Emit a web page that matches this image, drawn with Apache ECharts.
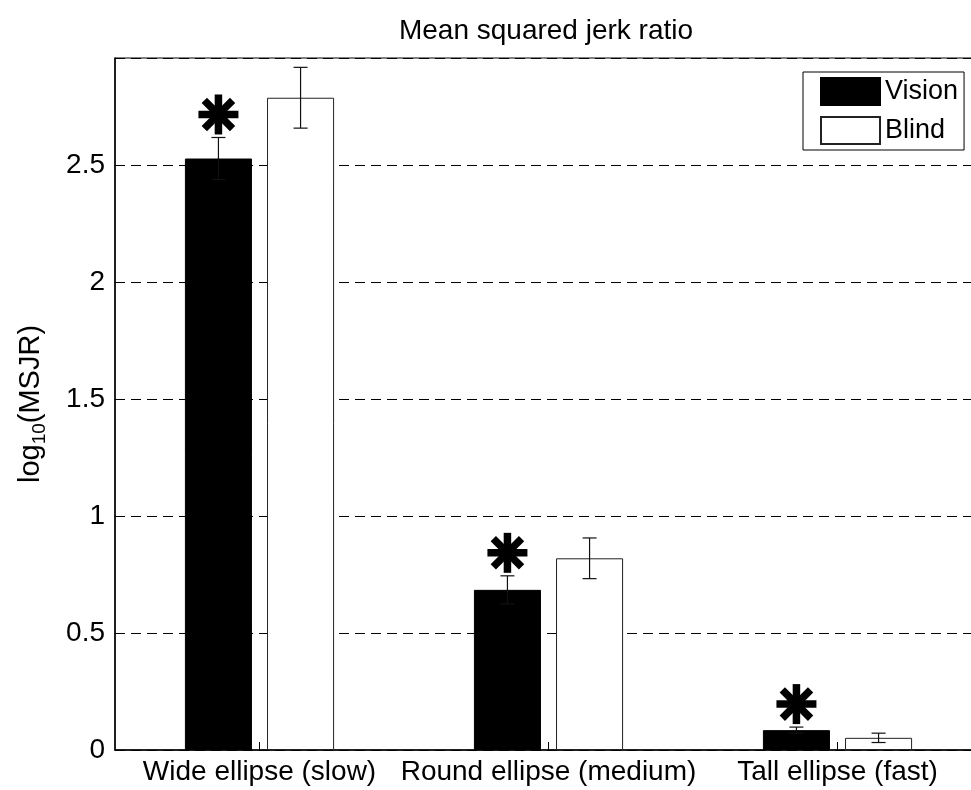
<!DOCTYPE html>
<html>
<head>
<meta charset="utf-8">
<script src="https://cdn.jsdelivr.net/npm/echarts@6/dist/echarts.min.js"></script>
<style>
  html, body { margin: 0; padding: 0; background: #fff; }
  #chart { width: 971px; height: 790px; }
</style>
</head>
<body>
<div id="chart"></div>
<script>
// Condition labels along the x axis
const categories = ['Wide ellipse (slow)', 'Round ellipse (medium)', 'Tall ellipse (fast)'];
// log10 of the mean squared jerk ratio, with standard error
const vision = [2.53, 0.685, 0.085];
const visionErr = [0.09, 0.06, 0.013];
const blind = [2.79, 0.82, 0.052];
const blindErr = [0.13, 0.087, 0.02];
// Significant difference between conditions (marked with an asterisk)
const significant = [true, true, true];
const yTicks = [0, 0.5, 1, 1.5, 2, 2.5];

const BAR_W = 0.232;   // bar width as a fraction of the category band
const BAR_GAP = 0.225; // gap between the two bars as a fraction of bar width
const FONT = '"Liberation Sans", Arial, Helvetica, sans-serif';

function barOffset(api, side) {
  const band = api.size([1, 0])[0];
  const w = band * BAR_W;
  return side * (w + w * BAR_GAP) / 2;
}

function errorBarSeries(values, errs, side) {
  return {
    type: 'custom',
    z: 5,
    silent: true,
    encode: { x: 0, y: 1 },
    data: values.map((v, i) => [i, v, errs[i]]),
    renderItem: function (params, api) {
      const i = api.value(0), v = api.value(1), e = api.value(2);
      const x = api.coord([i, v])[0] + barOffset(api, side);
      const yTop = api.coord([i, v + e])[1];
      const yBot = api.coord([i, v - e])[1];
      const cap = 7;
      const style = { stroke: '#111', lineWidth: 1.2 };
      return {
        type: 'group',
        children: [
          { type: 'line', shape: { x1: x, y1: yTop, x2: x, y2: yBot }, style: style },
          { type: 'line', shape: { x1: x - cap, y1: yTop, x2: x + cap, y2: yTop }, style: style },
          { type: 'line', shape: { x1: x - cap, y1: yBot, x2: x + cap, y2: yBot }, style: style }
        ]
      };
    }
  };
}

// Asterisks drawn above the Vision error bars
const starSeries = {
  type: 'custom',
  z: 6,
  silent: true,
  encode: { x: 0, y: 1 },
  data: vision.map((v, i) => [i, v + visionErr[i], significant[i] ? 1 : 0]),
  renderItem: function (params, api) {
    if (!api.value(2)) return null;
    const i = api.value(0), top = api.value(1);
    const p = api.coord([i, top]);
    const cx = p[0] + barOffset(api, -1);
    const cy = p[1] - 23;
    const r = 20;
    const children = [];
    for (let k = 0; k < 4; k++) {
      const a = k * Math.PI / 4;
      const dx = Math.sin(a) * r, dy = Math.cos(a) * r;
      children.push({
        type: 'line',
        shape: { x1: cx - dx, y1: cy - dy, x2: cx + dx, y2: cy + dy },
        style: { stroke: '#000', lineWidth: 7.5, lineCap: 'butt' }
      });
    }
    return { type: 'group', children: children };
  }
};

const chart = echarts.init(document.getElementById('chart'), null, { renderer: 'canvas' });

chart.setOption({
  backgroundColor: '#fff',
  animation: false,
  textStyle: { fontFamily: FONT, color: '#000' },
  graphic: [{
    type: 'text',
    x: 546,
    y: 31,
    style: {
      text: 'Mean squared jerk ratio',
      font: '28px ' + FONT,
      fill: '#000',
      textAlign: 'center',
      textVerticalAlign: 'middle'
    }
  }],
  legend: {
    data: ['Vision', 'Blind'],
    orient: 'vertical',
    left: 803,
    top: 72,
    padding: [5, 6, 5, 17],
    itemGap: 10,
    itemWidth: 59,
    itemHeight: 27,
    icon: 'rect',
    backgroundColor: '#fff',
    borderColor: '#000',
    borderWidth: 1,
    borderRadius: 0,
    selectedMode: false,
    textStyle: { fontFamily: FONT, fontSize: 27, color: '#000', padding: [0, 0, 0, 0] }
  },
  grid: {
    left: 115,
    width: 867,
    top: 58,
    bottom: 40,
    outerBoundsMode: 'none',
    containLabel: false,
    show: true,
    borderColor: '#000',
    borderWidth: 1,
    backgroundColor: 'transparent'
  },
  xAxis: {
    type: 'category',
    data: categories,
    axisLine: { lineStyle: { color: '#000', width: 1.5 } },
    axisTick: { show: true, inside: true, alignWithLabel: true, length: 8, lineStyle: { color: '#000' } },
    axisLabel: { fontFamily: FONT, fontSize: 28, color: '#000', margin: 8, interval: 0 },
    splitLine: { show: false }
  },
  yAxis: {
    type: 'value',
    min: 0,
    max: 2.96,
    interval: 0.5,
    name: '{a|log}{b|10}{a|(MSJR)}',
    nameLocation: 'middle',
    nameRotate: 90,
    nameGap: 66,
    nameTextStyle: {
      rich: {
        a: { fontFamily: FONT, fontSize: 29, color: '#000', lineHeight: 36, verticalAlign: 'middle' },
        b: { fontFamily: FONT, fontSize: 19, color: '#000', lineHeight: 36, verticalAlign: 'bottom', padding: [12, 0, 0, 0] }
      }
    },
    axisLine: { show: true, lineStyle: { color: '#000', width: 1.5 } },
    axisTick: { show: true, inside: true, length: 8, lineStyle: { color: '#000' } },
    axisLabel: {
      fontFamily: FONT,
      fontSize: 28,
      color: '#000',
      margin: 10,
      showMaxLabel: false,
      formatter: function (v) { return yTicks.indexOf(v) >= 0 ? String(v) : ''; }
    },
    splitLine: { show: true, lineStyle: { color: '#000', width: 1, type: [10, 6] } }
  },
  series: [
    {
      name: 'Vision',
      type: 'bar',
      data: vision,
      barWidth: (BAR_W * 100) + '%',
      barGap: (BAR_GAP * 100) + '%',
      itemStyle: { color: '#000', borderColor: '#000', borderWidth: 1 },
      z: 3
    },
    {
      name: 'Blind',
      type: 'bar',
      data: blind,
      barWidth: (BAR_W * 100) + '%',
      barGap: (BAR_GAP * 100) + '%',
      itemStyle: { color: '#fff', borderColor: '#222', borderWidth: 1 },
      z: 3
    },
    errorBarSeries(vision, visionErr, -1),
    errorBarSeries(blind, blindErr, 1),
    starSeries
  ]
});
</script>
</body>
</html>
